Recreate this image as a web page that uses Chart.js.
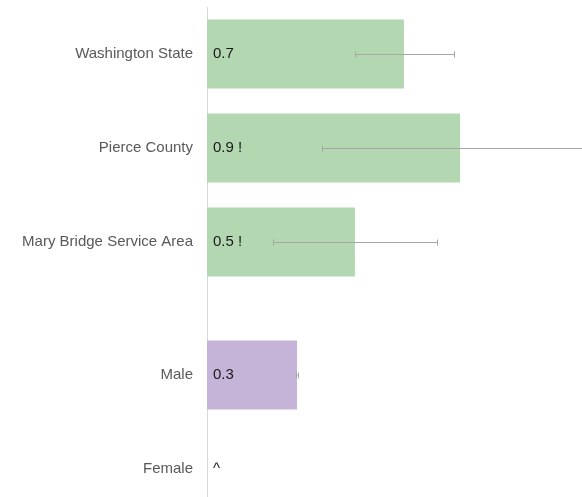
<!DOCTYPE html>
<html>
<head>
<meta charset="utf-8">
<script src="https://cdn.jsdelivr.net/npm/chart.js@4"></script>
<style>
  html, body { margin: 0; padding: 0; background: #fff; overflow: hidden; }
  #wrap { position: relative; width: 606px; height: 516px; }
</style>
</head>
<body>
<div id="wrap"><canvas id="grafico"></canvas></div>
<script>
// Dados do gráfico
const regioes = ['Washington State', 'Pierce County', 'Mary Bridge Service Area'];
const valoresRegioes = [0.691, 0.888, 0.519];
const minRegioes = [0.519, 0.404, 0.232];
const maxRegioes = [0.867, 1.35, 0.807];
const rotulosRegioes = ['0.7', '0.9 !', '0.5 !'];

const sexos = ['Male', 'Female'];
const valoresSexos = [0.316, 0];
const minSexos = [0.314, null];
const maxSexos = [0.318, null];
const rotulosSexos = ['0.3', '^'];

const fonte = '"Liberation Sans", Arial, sans-serif';

// Barras de erro (linha horizontal com pontas)
const barrasErro = {
  id: 'barrasErro',
  afterDatasetsDraw(chart) {
    const ctx = chart.ctx;
    const xScale = chart.scales.x;
    ctx.save();
    ctx.strokeStyle = '#a6a6a6';
    ctx.lineWidth = 1;
    chart.data.datasets.forEach((ds, i) => {
      const meta = chart.getDatasetMeta(i);
      meta.data.forEach((bar, j) => {
        if (ds.errMin[j] == null) return;
        const x1 = xScale.getPixelForValue(ds.errMin[j]);
        const x2 = xScale.getPixelForValue(ds.errMax[j]);
        const y = Math.round(bar.y) + 0.5;
        ctx.beginPath();
        ctx.moveTo(x1, y); ctx.lineTo(x2, y);
        ctx.moveTo(Math.round(x1) + 0.5, y - 3); ctx.lineTo(Math.round(x1) + 0.5, y + 3);
        ctx.moveTo(Math.round(x2) + 0.5, y - 3); ctx.lineTo(Math.round(x2) + 0.5, y + 3);
        ctx.stroke();
      });
    });
    ctx.restore();
  }
};

// Rótulos dos valores dentro das barras
const rotulosValores = {
  id: 'rotulosValores',
  afterDatasetsDraw(chart) {
    const ctx = chart.ctx;
    ctx.save();
    ctx.font = '15px ' + fonte;
    ctx.fillStyle = '#1a1a1a';
    ctx.textAlign = 'left';
    ctx.textBaseline = 'middle';
    chart.data.datasets.forEach((ds, i) => {
      const meta = chart.getDatasetMeta(i);
      meta.data.forEach((bar, j) => {
        ctx.fillText(ds.rotulos[j], chart.chartArea.left + 6, bar.y);
      });
    });
    ctx.restore();
  }
};

// Eixo de categorias (todos empilhados à esquerda)
function eixoCategoria(labels, peso, ordem) {
  return {
    type: 'category',
    labels: labels,
    position: 'left',
    stack: 'eixos',
    stackWeight: peso,
    weight: ordem,
    offset: true,
    grid: { display: false, drawTicks: false },
    border: { display: true, color: '#d9d9d9', width: 1 },
    ticks: { color: '#595959', padding: 14, font: { size: 15, family: fonte } },
    afterFit: s => {
      s.width = 207;
      s.paddingTop = 0;     // sem margem extra para os rótulos
      s.paddingBottom = 0;
    }
  };
}

function montarGrafico() {
  const ctx = document.getElementById('grafico').getContext('2d');
  new Chart(ctx, {
    type: 'bar',
    data: {
      datasets: [{
        data: valoresRegioes,
        yAxisID: 'yRegioes',
        backgroundColor: '#b2d7b1',
        errMin: minRegioes,
        errMax: maxRegioes,
        rotulos: rotulosRegioes
      }, {
        data: valoresSexos,
        yAxisID: 'ySexos',
        backgroundColor: '#c5b3d8',
        errMin: minSexos,
        errMax: maxSexos,
        rotulos: rotulosSexos
      }]
    },
    options: {
      indexAxis: 'y',
      responsive: true,
      maintainAspectRatio: false,
      animation: false,
      grouped: false,
      barPercentage: 0.734,
      categoryPercentage: 1,
      layout: { padding: { top: 7, left: 0, right: 0, bottom: 0 } },
      scales: {
        x: { type: 'linear', min: 0, max: 1.4, display: false },
        yRegioes: eixoCategoria(regioes, 3, 3),
        yEspaco: eixoCategoria([''], 0.415, 2),
        ySexos: eixoCategoria(sexos, 2, 1)
      },
      plugins: {
        legend: { display: false },
        tooltip: { enabled: false }
      }
    },
    plugins: [barrasErro, rotulosValores]
  });
}

montarGrafico();
</script>
</body>
</html>
